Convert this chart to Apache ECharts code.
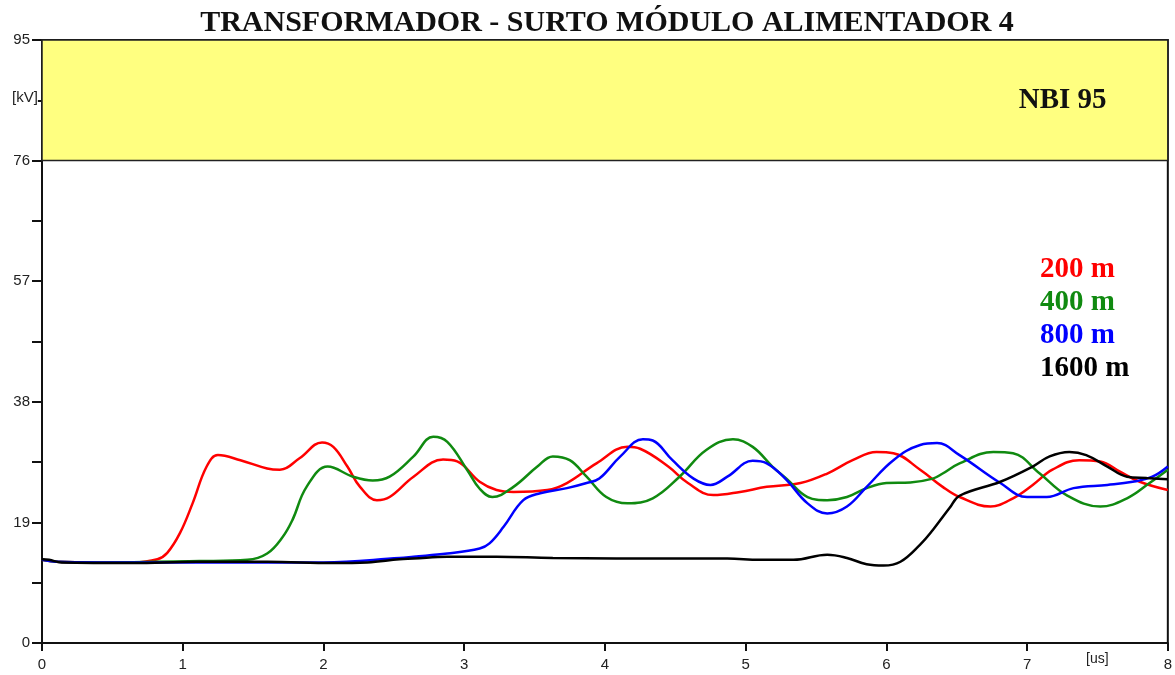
<!DOCTYPE html>
<html>
<head>
<meta charset="utf-8">
<title>Transformador - surto módulo alimentador 4</title>
<script src="https://cdn.jsdelivr.net/npm/echarts@6/dist/echarts.min.js"></script>
<style>
  html, body { margin: 0; padding: 0; background: #fff; }
  #chart { width: 1175px; height: 675px; }
</style>
</head>
<body>
<div id="chart"></div>
<script>
// Surge voltage at the transformer terminals [kV] versus time [us], one curve per cable length.
const seriesNames = ['200 m', '400 m', '800 m', '1600 m'];
const seriesColors = ['#ff0000', '#108a10', '#0000ff', '#000000'];

const v200 = [
  [0, 13.1], [0.1, 12.8], [0.4, 12.7], [0.65, 12.7], [0.82, 13.2], [0.89, 14.2], [0.98, 17.3],
  [1.07, 22.0], [1.17, 27.8], [1.25, 29.6], [1.41, 28.8], [1.60, 27.5], [1.69, 27.3], [1.83, 29.1],
  [1.99, 31.6], [2.07, 30.9], [2.17, 27.8], [2.26, 24.6], [2.38, 22.5], [2.47, 23.0], [2.64, 26.2],
  [2.85, 28.9], [2.95, 28.6], [3.11, 25.4], [3.23, 24.1], [3.35, 23.8], [3.59, 24.1], [3.73, 25.2],
  [3.94, 28.3], [4.16, 30.9], [4.25, 30.6], [4.45, 27.8], [4.59, 25.2], [4.77, 23.3], [4.96, 23.8],
  [5.15, 24.6], [5.39, 25.2], [5.58, 26.7], [5.76, 28.8], [5.93, 30.1], [6.05, 29.9],
  [6.24, 27.3], [6.40, 24.6], [6.52, 23.0], [6.74, 21.5], [6.90, 22.8], [7.04, 24.9], [7.18, 27.3],
  [7.37, 28.8], [7.52, 28.6], [7.66, 27.0], [7.80, 25.4], [8.0, 24.1]
];

const v400 = [
  [0, 13.1], [0.1, 12.8], [0.4, 12.7], [1.12, 12.9], [1.46, 13.1], [1.60, 14.1], [1.71, 16.7],
  [1.78, 19.4], [1.88, 24.6], [2.03, 27.8], [2.21, 26.2], [2.35, 25.6], [2.47, 26.2], [2.64, 29.4],
  [2.78, 32.5], [2.88, 31.7], [3.02, 27.3], [3.11, 24.3], [3.20, 23.0], [3.35, 24.6],
  [3.52, 27.8], [3.63, 29.4], [3.75, 28.8], [3.87, 26.2], [4.01, 23.0], [4.16, 22.0], [4.34, 22.8],
  [4.53, 26.2], [4.72, 30.4], [4.91, 32.1], [5.05, 30.9], [5.19, 27.8], [5.29, 25.9],
  [5.44, 23.0], [5.58, 22.5], [5.72, 23.0], [5.86, 24.4], [6.00, 25.2], [6.17, 25.3], [6.33, 25.9],
  [6.40, 26.7], [6.52, 28.3], [6.76, 30.1], [6.90, 29.9], [7.09, 26.7], [7.28, 23.3], [7.52, 21.5],
  [7.71, 22.8], [7.87, 25.2], [8.0, 27.3]
];

const v800 = [
  [0, 13.1], [0.1, 12.8], [0.4, 12.7], [2.0, 12.7], [2.54, 13.4], [2.64, 13.6], [2.88, 14.1],
  [3.11, 14.9], [3.18, 15.7], [3.28, 18.3], [3.42, 22.5], [3.54, 23.6], [3.73, 24.4], [3.87, 25.2],
  [3.96, 25.9], [4.11, 29.4], [4.27, 32.1], [4.34, 31.9], [4.48, 28.8], [4.63, 25.9], [4.75, 24.9],
  [4.87, 26.2], [5.05, 28.7], [5.15, 28.3], [5.29, 25.7], [5.44, 22.0], [5.58, 20.4], [5.72, 21.5],
  [5.86, 24.6], [6.05, 28.8], [6.24, 31.2], [6.36, 31.5], [6.52, 29.6], [6.81, 25.2], [7.00, 23.0],
  [7.14, 23.0], [7.33, 24.4], [7.57, 24.9], [7.75, 25.4], [7.89, 26.2], [8.0, 27.8]
];

const v1600 = [
  [0, 13.2], [0.05, 13.1], [0.14, 12.7], [0.64, 12.6], [1.1, 12.8], [1.6, 12.8], [2.07, 12.6],
  [2.31, 12.7], [2.54, 13.2], [2.64, 13.3], [2.88, 13.6], [3.23, 13.6], [3.63, 13.4], [4.53, 13.3],
  [4.87, 13.3], [5.10, 13.1], [5.34, 13.1], [5.58, 13.9], [5.72, 13.4], [5.86, 12.4], [5.98, 12.2],
  [6.10, 12.8], [6.24, 15.5], [6.33, 17.8], [6.45, 21.3], [6.52, 23.2], [6.81, 25.4], [7.04, 27.8],
  [7.16, 29.4], [7.30, 30.1], [7.42, 29.6], [7.57, 27.8], [7.71, 26.2], [7.85, 26.0], [8.0, 25.8]
];

const seriesData = [v200, v400, v800, v1600];

// Insulation level band (NBI) and axis ranges
const nbiBand = [76, 95];
const nbiLabel = 'NBI 95';
const yMin = 0, yMax = 95, yStep = 19;
const xMin = 0, xMax = 8, xStep = 1;
const yUnit = '[kV]';
const xUnit = '[us]';

const chart = echarts.init(document.getElementById('chart'), null, { renderer: 'canvas' });

const serif = '"Liberation Serif", "Times New Roman", serif';
const sans = '"Liberation Sans", Arial, sans-serif';

const series = seriesNames.map((name, i) => ({
  name: name,
  type: 'line',
  data: seriesData[i],
  showSymbol: false,
  smooth: 0.4,
  color: seriesColors[i],
  lineStyle: { width: 2.5, color: seriesColors[i] },
  z: 3 + i
}));

series[0].markArea = {
  silent: true,
  itemStyle: { color: '#ffff80', borderColor: '#222', borderWidth: 1.5 },
  label: {
    show: true,
    position: 'insideRight',
    distance: 62,
    formatter: nbiLabel,
    fontFamily: serif,
    fontWeight: 'bold',
    fontSize: 29,
    color: '#111'
  },
  data: [[{ yAxis: nbiBand[0] }, { yAxis: nbiBand[1] }]]
};

chart.setOption({
  animation: false,
  backgroundColor: '#fff',
  title: {
    text: 'TRANSFORMADOR - SURTO MÓDULO ALIMENTADOR 4',
    left: 602,
    textAlign: 'center',
    top: 3,
    textStyle: { fontFamily: serif, fontWeight: 'bold', fontSize: 30, color: '#111' }
  },
  legend: {
    orient: 'vertical',
    left: 1030,
    top: 250,
    icon: 'none',
    itemWidth: 0,
    itemHeight: 20,
    itemGap: 4,
    selectedMode: false,
    textStyle: { fontFamily: serif, fontWeight: 'bold', fontSize: 29 },
    data: seriesNames.map((n, i) => ({ name: n, textStyle: { color: seriesColors[i] } }))
  },
  grid: {
    left: 42, right: 7, top: 40, bottom: 32,
    show: true, borderColor: '#111', borderWidth: 2, backgroundColor: 'transparent'
  },
  xAxis: {
    type: 'value',
    min: xMin, max: xMax, interval: xStep,
    axisLine: { show: true, lineStyle: { color: '#111', width: 2 } },
    axisTick: { show: true, length: 8, lineStyle: { color: '#111', width: 2 } },
    axisLabel: { margin: 14, fontFamily: sans, fontSize: 15, color: '#222' },
    splitLine: { show: false }
  },
  yAxis: {
    type: 'value',
    min: yMin, max: yMax, interval: yStep,
    axisLine: { show: true, lineStyle: { color: '#111', width: 2 } },
    axisTick: { show: true, length: 10, lineStyle: { color: '#111', width: 2 } },
    minorTick: { show: true, splitNumber: 2, length: 10, lineStyle: { color: '#111', width: 2 } },
    axisLabel: { margin: 12, fontFamily: sans, fontSize: 15, color: '#222' },
    splitLine: { show: false },
    minorSplitLine: { show: false }
  },
  graphic: [
    {
      type: 'text', left: 12, top: 89, z: 100,
      style: { text: yUnit, fontFamily: sans, fontSize: 15, fill: '#222',
               backgroundColor: '#fff', padding: [1, 0, 1, 0] }
    },
    {
      type: 'text', left: 1086, top: 652, z: 100,
      style: { text: xUnit, fontFamily: sans, fontSize: 14, fill: '#222' }
    }
  ],
  series: series
});
</script>
</body>
</html>
